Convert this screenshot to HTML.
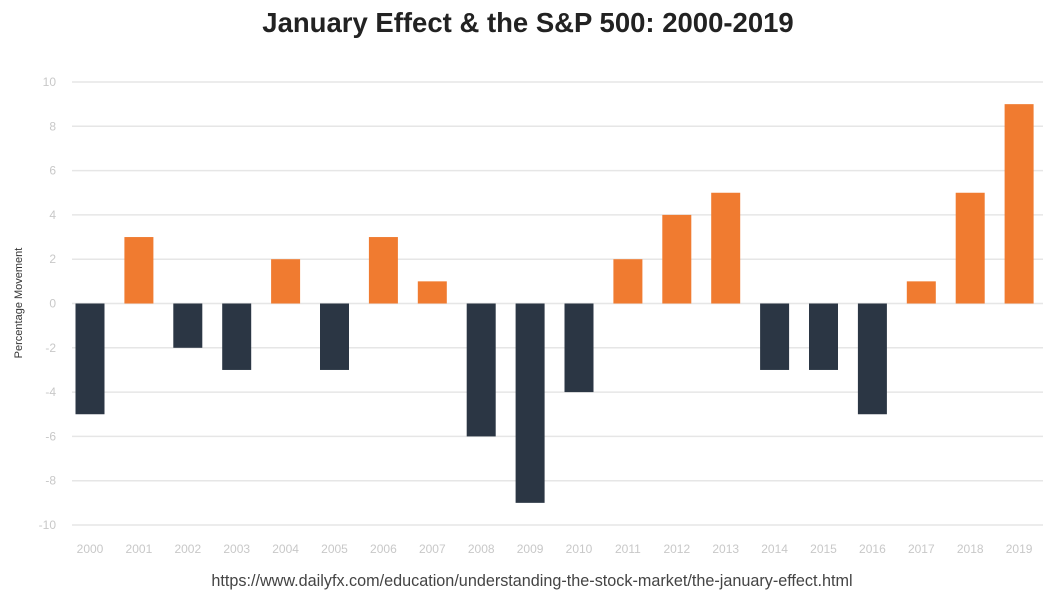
<!DOCTYPE html>
<html><head><meta charset="utf-8"><style>
body{margin:0;background:#fff;width:1063px;height:603px;overflow:hidden;font-family:"Liberation Sans",sans-serif}
</style></head><body>
<svg width="1063" height="603">
<text x="528" y="32" text-anchor="middle" font-size="27.5" font-weight="bold" fill="#222">January Effect &amp; the S&amp;P 500: 2000-2019</text>
<text transform="translate(22,303) rotate(-90)" text-anchor="middle" font-size="11" fill="#333">Percentage Movement</text>
<g id="grid"></g><g id="bars"></g><g id="xl"></g>
<text x="532" y="586" text-anchor="middle" font-size="16.2" fill="#444">https://www.dailyfx.com/education/understanding-the-stock-market/the-january-effect.html</text>
</svg>
<script>
const years=["2000","2001","2002","2003","2004","2005","2006","2007","2008","2009","2010","2011","2012","2013","2014","2015","2016","2017","2018","2019"];
const values=[-5,3,-2,-3,2,-3,3,1,-6,-9,-4,2,4,5,-3,-3,-5,1,5,9];
const yTicks=[10,8,6,4,2,0,-2,-4,-6,-8,-10];
const NS="http://www.w3.org/2000/svg";
const y=v=>303.5-v*22.15;
const x=i=>90+i*48.9;
function mk(t,a,p){const e=document.createElementNS(NS,t);for(const k in a)e.setAttribute(k,a[k]);p.appendChild(e);return e;}
const g=document.getElementById('grid');
yTicks.forEach(t=>{
 const l=mk('line',{x1:72,x2:1043,y1:y(t),y2:y(t),stroke:'#e6e6e6','stroke-width':1.5},g);
 
 
 const tx=mk('text',{x:56,y:y(t)+4,'text-anchor':'end','font-size':12,fill:'#c8c8c8'},g);
 tx.textContent=t;
 
 
});
const b=document.getElementById('bars'),xl=document.getElementById('xl');
values.forEach((v,i)=>{
 const r=mk('rect',{x:x(i)-14.5,y:Math.min(y(v),y(0)),width:29,height:Math.abs(y(v)-y(0)),fill:v>=0?'#f07b30':'#2b3644'},b);
 
 
 const t=mk('text',{x:x(i),y:553,'text-anchor':'middle','font-size':12,fill:'#c8c8c8'},xl);
 t.textContent=years[i];
 
 
});
</script>
</body></html>
